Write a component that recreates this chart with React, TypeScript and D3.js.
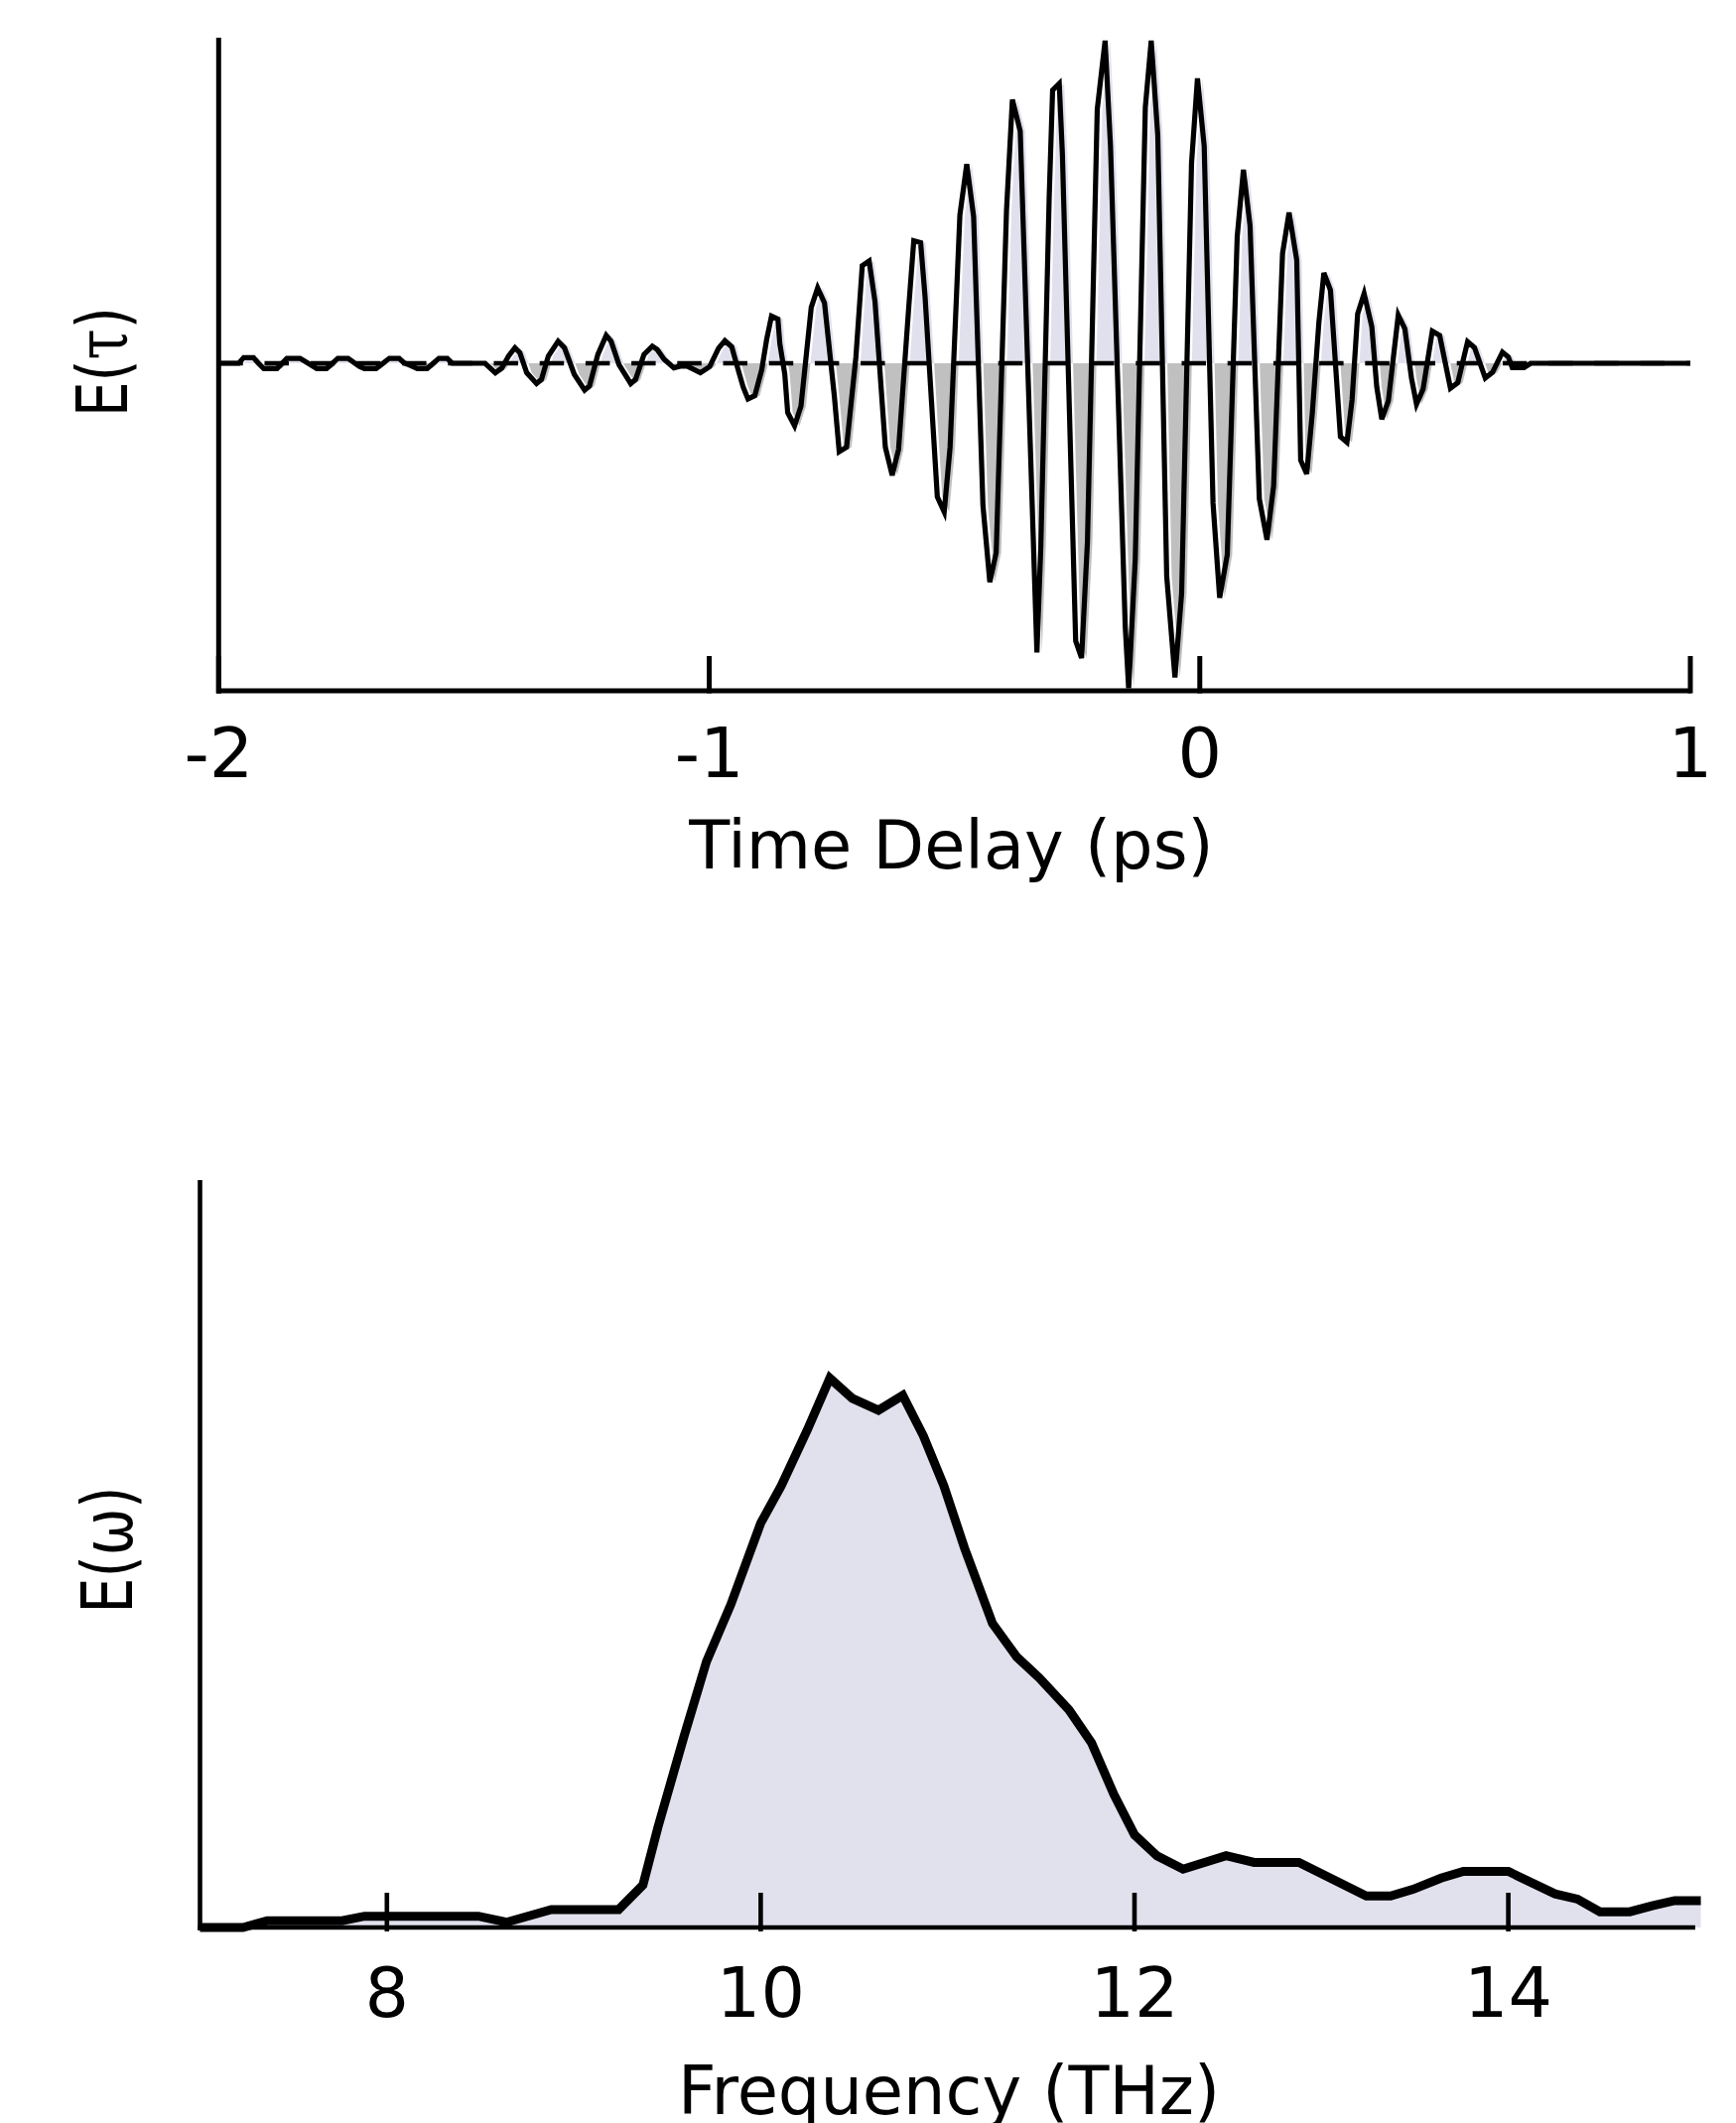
import React from 'react';
import * as d3 from 'd3';

// ---- Top panel: time-domain field E(tau) ----
const timeDelay = [
  -2.0, -1.959, -1.949, -1.929, -1.919, -1.908, -1.881, -1.861, -1.834, -1.807,
  -1.8, -1.78, -1.757, -1.736, -1.713, -1.703, -1.679, -1.652, -1.632, -1.622,
  -1.612, -1.595, -1.575, -1.551, -1.534, -1.524, -1.457, -1.436, -1.423, -1.409,
  -1.396, -1.386, -1.372, -1.352, -1.342, -1.328, -1.308, -1.295, -1.275, -1.254,
  -1.244, -1.227, -1.21, -1.2, -1.184, -1.16, -1.15, -1.133, -1.116, -1.106,
  -1.092, -1.072, -1.059, -1.045, -1.018, -0.999, -0.981, -0.968, -0.954, -0.941,
  -0.931, -0.921, -0.907, -0.893, -0.883, -0.873, -0.86, -0.856, -0.846, -0.84,
  -0.826, -0.813, -0.792, -0.779, -0.765, -0.745, -0.735, -0.72, -0.701, -0.688,
  -0.674, -0.662, -0.641, -0.627, -0.614, -0.593, -0.583, -0.569, -0.56, -0.535,
  -0.521, -0.509, -0.489, -0.475, -0.461, -0.442, -0.428, -0.415, -0.394, -0.382,
  -0.366, -0.332, -0.324, -0.307, -0.3, -0.2865, -0.28, -0.253, -0.241, -0.229,
  -0.209, -0.193, -0.182, -0.152, -0.145, -0.1315, -0.111, -0.099, -0.0856, -0.0674,
  -0.0506, -0.037, -0.0168, -0.0047, 0.009, 0.027, 0.0405, 0.056, 0.0763, 0.089,
  0.1025, 0.1214, 0.137, 0.1505, 0.1687, 0.182, 0.1977, 0.2057, 0.218, 0.2294,
  0.2428, 0.253, 0.2664, 0.2867, 0.3, 0.3104, 0.3218, 0.335, 0.3507, 0.3607,
  0.371, 0.3844, 0.4046, 0.4181, 0.4316, 0.4418, 0.4552, 0.474, 0.489, 0.511,
  0.526, 0.546, 0.56, 0.582, 0.597, 0.617, 0.629, 0.637, 0.661, 0.6745, 1.0,
];
const fieldTime = [
  0, 0, 0.017, 0.017, 0.0, -0.016, -0.016, 0.015, 0.015, -0.01,
  -0.016, -0.016, 0.015, 0.015, -0.01, -0.016, -0.016, 0.015, 0.015, 0.001,
  -0.005, -0.016, -0.016, 0.015, 0.015, 0.0, 0.0, -0.029, -0.015, 0.022,
  0.047, 0.032, -0.029, -0.062, -0.049, 0.022, 0.067, 0.047, -0.034, -0.082,
  -0.069, 0.027, 0.085, 0.067, -0.004, -0.062, -0.049, 0.027, 0.052, 0.042,
  0.012, -0.014, -0.009, -0.009, -0.029, -0.01, 0.046, 0.069, 0.05, -0.02,
  -0.072, -0.109, -0.099, -0.02, 0.072, 0.144, 0.135, 0.059, -0.033, -0.151,
  -0.191, -0.131, 0.171, 0.23, 0.184, -0.099, -0.27, -0.256, 0.019, 0.298,
  0.312, 0.188, -0.256, -0.342, -0.263, 0.177, 0.374, 0.368, 0.203, -0.408,
  -0.454, -0.256, 0.453, 0.608, 0.447, -0.434, -0.668, -0.578, 0.466, 0.805,
  0.709, -0.883, -0.559, 0.506, 0.834, 0.854, 0.637, -0.848, -0.9, -0.545,
  0.775, 0.985, 0.663, -0.802, -0.992, -0.598, 0.782, 0.985, 0.696, -0.651,
  -0.959, -0.703, 0.611, 0.87, 0.663, -0.427, -0.716, -0.585, 0.387, 0.591,
  0.42, -0.414, -0.539, -0.375, 0.335, 0.46, 0.315, -0.296, -0.338, -0.152,
  0.125, 0.276, 0.223, -0.224, -0.241, -0.112, 0.151, 0.213, 0.112, -0.072,
  -0.171, -0.115, 0.147, 0.105, -0.046, -0.125, -0.079, 0.098, 0.085, -0.076,
  -0.059, 0.066, 0.048, -0.045, -0.027, 0.034, 0.019, -0.013, -0.013, 0.0, 0.0,
];
const timeTicks = [-2, -1, 0, 1];

// ---- Bottom panel: spectrum E(omega) ----
const freqTHz = [
  7.0, 7.23, 7.36, 7.76, 7.88, 8.49, 8.64, 8.88, 9.24, 9.37,
  9.45, 9.59, 9.71, 9.84, 10.0, 10.11, 10.25, 10.37, 10.49, 10.63,
  10.76, 10.87, 10.98, 11.09, 11.24, 11.37, 11.49, 11.65, 11.77, 11.89,
  12.0, 12.12, 12.26, 12.49, 12.64, 12.88, 13.24, 13.37, 13.49, 13.64,
  13.76, 14.0, 14.25, 14.37, 14.49, 14.65, 14.77, 14.89, 15.03,
];
const spectrum = [
  0, 0, 0.009, 0.009, 0.015, 0.015, 0.007, 0.024, 0.024, 0.057,
  0.134, 0.256, 0.356, 0.432, 0.541, 0.591, 0.666, 0.735, 0.708, 0.692,
  0.712, 0.658, 0.591, 0.508, 0.407, 0.362, 0.334, 0.291, 0.247, 0.178,
  0.124, 0.096, 0.078, 0.096, 0.087, 0.087, 0.042, 0.042, 0.051, 0.066,
  0.075, 0.075, 0.045, 0.038, 0.021, 0.021, 0.029, 0.036, 0.036,
];
const freqTicks = [8, 10, 12, 14];

const FONT = "'DejaVu Sans', sans-serif";

export default function App() {
  const W = 1749;
  const H = 2139;

  // top panel scales
  const xT = d3.scaleLinear().domain([-2, 1]).range([220.3, 1703]);
  const yT = d3.scaleLinear().domain([-1, 1]).range([696, 36]);
  const ptsT: [number, number][] = timeDelay.map((t, i) => [t, fieldTime[i]]);
  const lineT = d3.line<[number, number]>().x(d => xT(d[0])).y(d => yT(d[1]))(ptsT) || '';
  const areaT = d3.area<[number, number]>().x(d => xT(d[0])).y0(yT(0)).y1(d => yT(d[1]))(ptsT) || '';
  const zeroY = yT(0);

  // bottom panel scales
  const xB = d3.scaleLinear().domain([7, 15]).range([201.5, 1707.9]);
  const yB = d3.scaleLinear().domain([0, 1]).range([1942, 1189]);
  const ptsB: [number, number][] = freqTHz.map((f, i) => [f, spectrum[i]]);
  const lineB = d3.line<[number, number]>().x(d => xB(d[0])).y(d => yB(d[1]))(ptsB) || '';
  const areaB = d3.area<[number, number]>().x(d => xB(d[0])).y0(yB(0)).y1(d => yB(d[1]))(ptsB) || '';

  const axisTop = 5;
  const axisBot = 4.6;

  return (
    <svg width={W} height={H} viewBox={`0 0 ${W} ${H}`}
      style={{ position: 'absolute', left: 0, top: 0, background: '#fff' }}>
      <defs>
        <clipPath id="clipPos"><rect x={0} y={0} width={W} height={zeroY} /></clipPath>
        <clipPath id="clipNeg"><rect x={0} y={zeroY} width={W} height={400} /></clipPath>
      </defs>
      <rect x={0} y={0} width={W} height={H} fill="#ffffff" />

      {/* ---------- Top panel ---------- */}
      <g transform="translate(5,0)">
        <path d={areaT} fill="#e1e1ee" clipPath="url(#clipPos)" />
        <path d={areaT} fill="#c0c0c0" clipPath="url(#clipNeg)" />
      </g>
      <line x1={xT(-2)} x2={xT(1)} y1={zeroY} y2={zeroY} stroke="#000" strokeWidth={4.5}
        strokeDasharray="24.5 21.7" />
      <path d={lineT} fill="none" stroke="#000" strokeWidth={5.2} strokeLinejoin="miter" />

      {/* axes */}
      <line x1={xT(-2)} x2={xT(-2)} y1={38} y2={698.5} stroke="#000" strokeWidth={axisTop} />
      <line x1={xT(-2) - 2} x2={xT(1) + 1} y1={696} y2={696} stroke="#000" strokeWidth={axisTop} />
      {timeTicks.map(t => (
        <g key={t}>
          <line x1={xT(t)} x2={xT(t)} y1={661} y2={698.5} stroke="#000" strokeWidth={axisTop} />
          <text x={xT(t)} y={783} textAnchor="middle" fontFamily={FONT} fontSize={70} fill="#000">
            {t < 0 ? `-${Math.abs(t)}` : `${t}`}
          </text>
        </g>
      ))}
      <text x={958.5} y={875} textAnchor="middle" fontFamily={FONT} fontSize={67} fill="#000">
        Time Delay (ps)
      </text>
      <text transform="translate(128.3,364.6) rotate(-90)" textAnchor="middle" fontFamily={FONT}
        fontSize={72} fill="#000" textLength={111} lengthAdjust="spacingAndGlyphs">
        E(<tspan fontFamily="'DejaVu Serif', serif">τ</tspan>)
      </text>

      {/* ---------- Bottom panel ---------- */}
      <path d={areaB} fill="#e1e1ee" />
      <line x1={xB(7)} x2={xB(7)} y1={1189} y2={1945} stroke="#000" strokeWidth={axisBot} />
      <line x1={xB(7) - 2} x2={xB(15)} y1={1942} y2={1942} stroke="#000" strokeWidth={axisBot} />
      {freqTicks.map(f => (
        <g key={f}>
          <line x1={xB(f)} x2={xB(f)} y1={1907} y2={1946} stroke="#000" strokeWidth={axisBot} />
          <text x={xB(f)} y={2032} textAnchor="middle" fontFamily={FONT} fontSize={70} fill="#000">
            {f}
          </text>
        </g>
      ))}
      <path d={lineB} fill="none" stroke="#000" strokeWidth={9} strokeLinejoin="miter" />
      <text x={956} y={2130} textAnchor="middle" fontFamily={FONT} fontSize={67} fill="#000">
        Frequency (THz)
      </text>
      <text transform="translate(133.3,1561.5) rotate(-90)" textAnchor="middle" fontFamily={FONT}
        fontSize={72} fill="#000" textLength={128} lengthAdjust="spacingAndGlyphs">
        E(ω)
      </text>
    </svg>
  );
}
